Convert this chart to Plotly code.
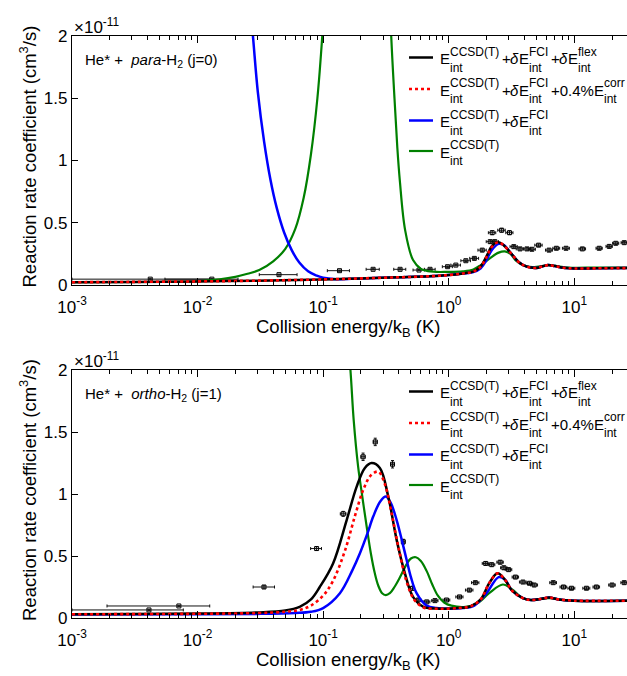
import plotly.graph_objects as go

# ---------------- data (rate coefficients in units of 1e-11 cm^3/s) ----------------
# Top panel: He* + para-H2 (j=0)
p_black_E = [0.001, 0.003, 0.01, 0.03, 0.1, 0.2, 0.4, 0.7, 1.0, 1.3, 1.57, 1.8, 2.0, 2.2, 2.45, 2.7, 3.16, 3.6, 3.92, 4.5, 5.0, 5.6, 6.2, 7.0, 8.2, 10, 15, 27]
p_black_k = [0.022, 0.025, 0.029, 0.035, 0.045, 0.053, 0.062, 0.07, 0.08, 0.093, 0.107, 0.15, 0.23, 0.31, 0.345, 0.325, 0.25, 0.185, 0.16, 0.14, 0.137, 0.15, 0.16, 0.152, 0.138, 0.133, 0.134, 0.136]
p_red_E = p_black_E
p_red_k = [0.022, 0.025, 0.029, 0.035, 0.045, 0.053, 0.062, 0.07, 0.08, 0.093, 0.107, 0.148, 0.225, 0.305, 0.342, 0.324, 0.25, 0.185, 0.16, 0.14, 0.137, 0.15, 0.16, 0.152, 0.138, 0.133, 0.134, 0.136]
p_blue_E = [0.0245, 0.0276, 0.0302, 0.0339, 0.038, 0.0427, 0.049, 0.0562, 0.0646, 0.0759, 0.0891, 0.1, 0.126, 0.2, 0.4, 0.7, 1.0, 1.3, 1.57, 1.8, 2.0, 2.2, 2.5, 2.75, 3.16, 3.6, 3.92, 4.5, 5.0, 5.6, 6.2, 7.0, 8.2, 10, 15, 27]
p_blue_k = [2.6, 2.0, 1.55, 1.15, 0.85, 0.62, 0.42, 0.28, 0.18, 0.11, 0.075, 0.058, 0.047, 0.053, 0.062, 0.07, 0.08, 0.092, 0.104, 0.135, 0.2, 0.28, 0.33, 0.32, 0.25, 0.185, 0.16, 0.14, 0.137, 0.15, 0.16, 0.152, 0.138, 0.133, 0.134, 0.136]
p_green_E = [0.001, 0.005, 0.01, 0.015, 0.02, 0.025, 0.031, 0.04, 0.05, 0.06, 0.07, 0.08, 0.09, 0.1, 0.12, 0.19, 0.3, 0.345, 0.37, 0.39, 0.408, 0.45, 0.52, 0.6, 0.66, 0.8, 0.96, 1.3, 1.57, 1.8, 2.1, 2.5, 2.8, 3.1, 3.4, 3.9, 4.4, 5.0, 6.3, 7.5, 9, 15, 27]
p_green_k = [0.022, 0.024, 0.03, 0.045, 0.065, 0.09, 0.12, 0.19, 0.29, 0.45, 0.7, 1.05, 1.5, 2.1, 3.5, 10, 4.0, 2.1, 1.5, 1.1, 0.84, 0.44, 0.2, 0.13, 0.115, 0.105, 0.105, 0.11, 0.125, 0.16, 0.21, 0.26, 0.27, 0.25, 0.2, 0.16, 0.145, 0.145, 0.16, 0.15, 0.14, 0.14, 0.14]

# experimental points, top panel
p_exp_E = [0.0042, 0.013, 0.0445, 0.135, 0.25, 0.41, 0.58, 0.71, 0.98, 1.14, 1.37, 1.6, 1.85, 2.14, 2.33, 2.22, 2.64, 3.05, 3.3, 3.7, 4.2, 4.6, 5.2, 6.3, 7.2, 8.6, 11.6, 15.8, 19, 21.4, 25]
p_exp_k = [0.047, 0.047, 0.083, 0.115, 0.126, 0.126, 0.12, 0.126, 0.147, 0.16, 0.195, 0.214, 0.28, 0.348, 0.348, 0.42, 0.44, 0.42, 0.308, 0.29, 0.29, 0.287, 0.32, 0.28, 0.295, 0.295, 0.29, 0.295, 0.31, 0.335, 0.34]
p_exp_dEm = [0.0032, 0.0075, 0.0135, 0.027, 0.03, 0.045, 0.06, 0.07, 0.09, 0.1, 0.12, 0.13, 0.14, 0.15, 0.16, 0.15, 0.18, 0.2, 0.22, 0.25, 0.28, 0.3, 0.35, 0.4, 0.45, 0.55, 0.7, 0.9, 1.1, 1.2, 1.4]
p_exp_dEp = [0.0083, 0.008, 0.0175, 0.027, 0.03, 0.045, 0.06, 0.07, 0.09, 0.1, 0.12, 0.13, 0.14, 0.15, 0.16, 0.15, 0.18, 0.2, 0.22, 0.25, 0.28, 0.3, 0.35, 0.4, 0.45, 0.55, 0.7, 0.9, 1.1, 1.2, 1.4]
p_exp_dk = [0.004, 0.004, 0.004, 0.005, 0.005, 0.005, 0.005, 0.005, 0.006, 0.006, 0.007, 0.008, 0.01, 0.012, 0.012, 0.015, 0.015, 0.015, 0.01, 0.01, 0.01, 0.01, 0.01, 0.01, 0.01, 0.01, 0.01, 0.01, 0.01, 0.01, 0.01]

# Bottom panel: He* + ortho-H2 (j=1)
o_black_E = [0.001, 0.003, 0.01, 0.03, 0.05, 0.065, 0.08, 0.094, 0.12, 0.154, 0.185, 0.215, 0.243, 0.283, 0.33, 0.385, 0.448, 0.52, 0.63, 0.85, 1.2, 1.5, 1.8, 2.1, 2.45, 2.8, 3.2, 3.9, 4.5, 5.5, 6.3, 7.5, 10, 27]
o_black_k = [0.03, 0.033, 0.036, 0.045, 0.06, 0.09, 0.15, 0.25, 0.44, 0.79, 1.06, 1.21, 1.25, 1.21, 0.98, 0.63, 0.36, 0.17, 0.09, 0.075, 0.08, 0.095, 0.15, 0.28, 0.36, 0.31, 0.22, 0.16, 0.145, 0.155, 0.165, 0.15, 0.14, 0.14]
o_red_E = [0.001, 0.01, 0.03, 0.05, 0.065, 0.08, 0.1, 0.12, 0.15, 0.18, 0.21, 0.24, 0.275, 0.31, 0.35, 0.4, 0.46, 0.53, 0.63, 0.85, 1.2, 1.5, 1.8, 2.1, 2.45, 2.8, 3.2, 3.9, 4.5, 5.5, 6.3, 7.5, 10, 27]
o_red_k = [0.03, 0.034, 0.04, 0.05, 0.065, 0.1, 0.18, 0.3, 0.55, 0.83, 1.04, 1.15, 1.18, 1.08, 0.85, 0.56, 0.3, 0.15, 0.085, 0.075, 0.08, 0.095, 0.15, 0.28, 0.36, 0.31, 0.22, 0.16, 0.145, 0.155, 0.165, 0.15, 0.14, 0.14]
o_blue_E = [0.001, 0.01, 0.03, 0.06, 0.08, 0.1, 0.136, 0.17, 0.196, 0.225, 0.251, 0.285, 0.316, 0.345, 0.385, 0.43, 0.462, 0.5, 0.555, 0.667, 0.8, 1.0, 1.3, 1.6, 2.0, 2.5, 2.8, 3.2, 3.9, 4.5, 5.5, 6.3, 7.5, 10, 27]
o_blue_k = [0.028, 0.03, 0.033, 0.04, 0.05, 0.08, 0.2, 0.38, 0.52, 0.68, 0.82, 0.94, 0.98, 0.93, 0.79, 0.6, 0.47, 0.33, 0.2, 0.1, 0.08, 0.075, 0.08, 0.1, 0.2, 0.33, 0.31, 0.22, 0.16, 0.145, 0.155, 0.165, 0.15, 0.14, 0.14]
o_green_E = [0.001, 0.05, 0.12, 0.15, 0.165, 0.175, 0.19, 0.205, 0.222, 0.24, 0.258, 0.275, 0.295, 0.315, 0.34, 0.37, 0.41, 0.46, 0.5, 0.548, 0.6, 0.667, 0.74, 0.82, 0.92, 1.05, 1.36, 1.7, 2.1, 2.7, 3.2, 3.9, 4.5, 6.3, 9, 27]
o_green_k = [8.0, 6.0, 3.5, 2.5, 2.0, 1.6, 1.22, 0.98, 0.74, 0.52, 0.36, 0.26, 0.2, 0.185, 0.2, 0.25, 0.33, 0.43, 0.48, 0.49, 0.46, 0.38, 0.27, 0.18, 0.125, 0.1, 0.09, 0.12, 0.2, 0.27, 0.23, 0.16, 0.145, 0.16, 0.14, 0.14]

o_exp_E = [0.0041, 0.0071, 0.0338, 0.0887, 0.1445, 0.208, 0.26, 0.357, 0.435, 0.515, 0.571, 0.668, 0.777, 0.96, 1.22, 1.46, 1.63, 1.97, 2.2, 2.57, 2.75, 3.0, 3.4, 3.9, 4.4, 4.8, 6.8, 8.2, 9.5, 12.5, 15, 20, 25]
o_exp_k = [0.065, 0.097, 0.25, 0.56, 0.84, 1.30, 1.42, 1.24, 0.615, 0.24, 0.145, 0.13, 0.14, 0.145, 0.17, 0.225, 0.285, 0.44, 0.43, 0.45, 0.405, 0.39, 0.33, 0.29, 0.28, 0.266, 0.285, 0.25, 0.24, 0.24, 0.25, 0.266, 0.285]
o_exp_dEm = [0.0031, 0.0052, 0.0061, 0.0092, 0.0075, 0.008, 0.009, 0.01, 0.012, 0.02, 0.03, 0.04, 0.045, 0.06, 0.08, 0.1, 0.11, 0.12, 0.13, 0.15, 0.16, 0.18, 0.2, 0.24, 0.27, 0.3, 0.42, 0.5, 0.6, 0.8, 0.9, 1.2, 1.5]
o_exp_dEp = [0.0036, 0.0054, 0.0072, 0.0083, 0.0075, 0.008, 0.009, 0.01, 0.012, 0.02, 0.03, 0.04, 0.045, 0.06, 0.08, 0.1, 0.11, 0.12, 0.13, 0.15, 0.16, 0.18, 0.2, 0.24, 0.27, 0.3, 0.42, 0.5, 0.6, 0.8, 0.9, 1.2, 1.5]
o_exp_dk = [0.005, 0.005, 0.01, 0.015, 0.02, 0.03, 0.03, 0.03, 0.02, 0.015, 0.01, 0.008, 0.008, 0.008, 0.008, 0.01, 0.01, 0.012, 0.012, 0.012, 0.012, 0.01, 0.01, 0.01, 0.01, 0.01, 0.01, 0.01, 0.01, 0.01, 0.01, 0.01, 0.01]

x_tick_vals = [0.001, 0.01, 0.1, 1, 10]
x_tick_text = ["10<sup>-3</sup>", "10<sup>-2</sup>", "10<sup>-1</sup>", "10<sup>0</sup>", "10<sup>1</sup>"]
y_tick_vals = [0, 0.5, 1, 1.5, 2]
y_tick_text = ["0", "0.5", "1", "1.5", "2"]
panel_labels = ["He* +\u00a0 <i>para</i>-H<sub>2</sub> (j=0)", "He* +\u00a0 <i>ortho</i>-H<sub>2</sub> (j=1)"]
x_title = "Collision energy/k<sub>B</sub> (K)"
y_title = "Reaction rate coefficient (cm<sup>3</sup>/s)"
exp_label = "\u00d710<sup>-11</sup>"

# ---------------- layout geometry ----------------
W, H = 627, 676
L, R = 72, 0
FONT = "Liberation Sans, Arial, Helvetica, sans-serif"

def xp(px):
    return (px - L) / (W - L - R)

def yp(py):
    return (H - py) / H

panel_px = [(36, 285), (370, 618)]  # (top, bottom) pixel rows of the plotting areas

minor_vals = [m * 10.0 ** d for d in range(-3, 2) for m in range(2, 10) if m * 10.0 ** d < 30]

BLACK, RED, BLUE, GREEN = "#000000", "#ff0000", "#0000ff", "#008000"

fig = go.Figure()

panels = [
    dict(black=(p_black_E, p_black_k), red=(p_red_E, p_red_k), blue=(p_blue_E, p_blue_k), green=(p_green_E, p_green_k),
         exp=(p_exp_E, p_exp_k, p_exp_dEm, p_exp_dEp, p_exp_dk)),
    dict(black=(o_black_E, o_black_k), red=(o_red_E, o_red_k), blue=(o_blue_E, o_blue_k), green=(o_green_E, o_green_k),
         exp=(o_exp_E, o_exp_k, o_exp_dEm, o_exp_dEp, o_exp_dk)),
]

for i, pd_ in enumerate(panels):
    xa = "x" if i == 0 else "x2"
    ya = "y" if i == 0 else "y2"
    E, k, dm, dp, dk = pd_["exp"]
    fig.add_trace(go.Scatter(x=E, y=k, mode="markers", xaxis=xa, yaxis=ya, showlegend=False,
                             marker=dict(symbol="square-open", size=4, color=BLACK, line=dict(width=1, color=BLACK)),
                             error_x=dict(type="data", array=dp, arrayminus=dm, color="#111111", thickness=1, width=1.5),
                             error_y=dict(type="data", array=dk, color="#111111", thickness=1, width=1.5)))
    for key, col, wd, dash in [("green", GREEN, 2.2, "solid"), ("blue", BLUE, 2.5, "solid"),
                               ("black", BLACK, 2.5, "solid"), ("red", RED, 2.6, "3px,3px")]:
        xs, ys = pd_[key]
        fig.add_trace(go.Scatter(x=xs, y=ys, mode="lines", xaxis=xa, yaxis=ya, showlegend=False,
                                 line=dict(color=col, width=wd, dash=dash, shape="spline", smoothing=1.0)))

axis_common = dict(showline=True, linecolor="black", linewidth=1.3, ticks="inside", tickcolor="black",
                   showgrid=False, zeroline=False, automargin=False,
                   tickfont=dict(family=FONT, size=17, color="black"))
for i, (top, bot) in enumerate(panel_px):
    dom = [yp(bot), yp(top)]
    xkey = "xaxis" if i == 0 else "xaxis2"
    ykey = "yaxis" if i == 0 else "yaxis2"
    fig.layout[xkey] = dict(type="log", range=[-3, 1.42], domain=[0, 1], anchor="y" if i == 0 else "y2",
                            tickmode="array", tickvals=x_tick_vals, ticktext=x_tick_text, ticklen=7, tickwidth=1.3,
                            mirror="ticks", ticklabelstandoff=6,
                            minor=dict(tickmode="array", tickvals=minor_vals, ticks="inside", ticklen=4,
                                       tickwidth=1, tickcolor="black"),
                            **axis_common)
    fig.layout[ykey] = dict(range=[0, 2], domain=dom, anchor="x" if i == 0 else "x2",
                            tickmode="array", tickvals=y_tick_vals, ticktext=y_tick_text, ticklen=6, tickwidth=1.3,
                            **axis_common)

annotations = []
for i, (top, bot) in enumerate(panel_px):
    off = top - 36
    # panel label
    annotations.append(dict(x=xp(83), y=yp(60 + off), xref="paper", yref="paper", xanchor="left", yanchor="middle",
                            text=panel_labels[i], showarrow=False, font=dict(family=FONT, size=15, color="black")))
    # exponent label
    annotations.append(dict(x=xp(72), y=yp(26 + off), xref="paper", yref="paper", xanchor="left", yanchor="middle",
                            text=exp_label, showarrow=False, font=dict(family=FONT, size=17, color="black")))
    # x title
    annotations.append(dict(x=xp(348), y=yp(bot + 43), xref="paper", yref="paper", xanchor="center", yanchor="middle",
                            text=x_title, showarrow=False, font=dict(family=FONT, size=18.5, color="black")))
    # y title
    annotations.append(dict(x=xp(28), y=yp((top + bot) / 2 - 4), xref="paper", yref="paper", xanchor="center",
                            yanchor="middle", textangle=-90, text=y_title, showarrow=False,
                            font=dict(family=FONT, size=18.5, color="black")))

# ---------------- hand-built legend with stacked super/subscripts ----------------
AW = {' ': 278, '%': 889, '(': 333, ')': 333, '+': 584, '.': 278, '0': 556, '4': 556, 'C': 722, 'D': 722,
      'E': 667, 'F': 611, 'I': 278, 'S': 667, 'T': 611, 'c': 500, 'e': 556, 'f': 278, 'i': 222, 'l': 222,
      'n': 556, 'o': 556, 'r': 333, 't': 278, 'x': 500, 'δ': 556}

def tw(s, size):
    return sum(AW.get(ch, 556) for ch in s) * size / 1000.0

legend_rows = [
    [("b", "E"), ("s", "CCSD(T)", "int"), ("b", "+"), ("d", "δ"), ("b", "E"), ("s", "FCI", "int"),
     ("b", "+"), ("d", "δ"), ("b", "E"), ("s", "flex", "int")],
    [("b", "E"), ("s", "CCSD(T)", "int"), ("b", "+"), ("d", "δ"), ("b", "E"), ("s", "FCI", "int"),
     ("b", "+0.4%E"), ("s", "corr", "int")],
    [("b", "E"), ("s", "CCSD(T)", "int"), ("b", "+"), ("d", "δ"), ("b", "E"), ("s", "FCI", "int")],
    [("b", "E"), ("s", "CCSD(T)", "int")],
]
legend_styles = [(BLACK, "solid", 2.5), (RED, "dot", 2.6), (BLUE, "solid", 2.5), (GREEN, "solid", 2.2)]
row_y = [57.5, 89, 120.5, 151]
BASE, SCR = 15, 12
shapes = []
for i, (top, bot) in enumerate(panel_px):
    off = top - 36
    for r, row in enumerate(legend_rows):
        cy = row_y[r] + off
        col, dash, wd = legend_styles[r]
        shapes.append(dict(type="line", xref="paper", yref="paper", x0=xp(409), x1=xp(433), y0=yp(cy), y1=yp(cy),
                           line=dict(color=col, width=wd, dash=dash)))
        cx = 439.0
        for tok in row:
            if tok[0] in ("b", "d"):
                txt = tok[1] if tok[0] == "b" else "<i>" + tok[1] + "</i>"
                annotations.append(dict(x=xp(cx), y=yp(cy + 1), xref="paper", yref="paper", xanchor="left",
                                        yanchor="middle", text=txt, showarrow=False, borderpad=0,
                                        font=dict(family=FONT, size=BASE, color="black")))
                cx += tw(tok[1], BASE)
            else:
                sup, sub = tok[1], tok[2]
                annotations.append(dict(x=xp(cx), y=yp(cy - 6), xref="paper", yref="paper", xanchor="left",
                                        yanchor="middle", text=sup, showarrow=False, borderpad=0,
                                        font=dict(family=FONT, size=SCR, color="black")))
                annotations.append(dict(x=xp(cx), y=yp(cy + 10), xref="paper", yref="paper", xanchor="left",
                                        yanchor="middle", text=sub, showarrow=False, borderpad=0,
                                        font=dict(family=FONT, size=SCR, color="black")))
                cx += max(tw(sup, SCR), tw(sub, SCR)) + 2.4

fig.update_layout(width=W, height=H, margin=dict(l=L, r=R, t=0, b=0, autoexpand=False), plot_bgcolor="white",
                  paper_bgcolor="white", showlegend=False, annotations=annotations, shapes=shapes,
                  font=dict(family=FONT, color="black"))

fig.write_html("out.html", config={"displayModeBar": False},
               post_script="document.body.style.margin='0';")
